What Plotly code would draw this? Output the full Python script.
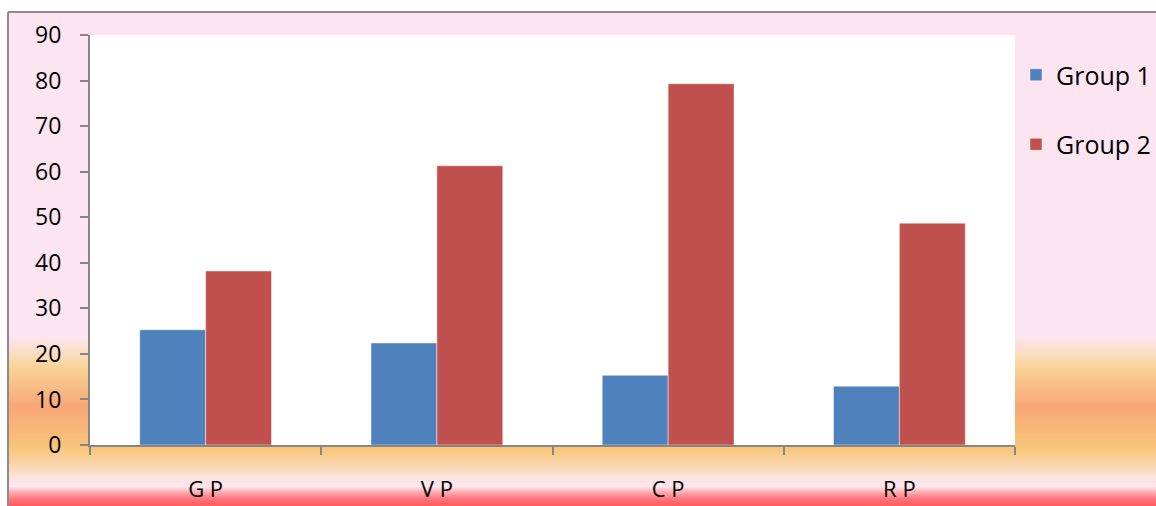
import plotly.graph_objects as go

# ---- data -------------------------------------------------------------
categories = ["G P", "V P", "C P", "R P"]
group1 = [25.3, 22.4, 15.3, 12.9]
group2 = [38.2, 61.3, 79.3, 48.7]
y_ticks = [0, 10, 20, 30, 40, 50, 60, 70, 80, 90]

# ---- styling ----------------------------------------------------------
W, H = 1156, 506
L, R, T, B = 90, 141, 35, 61
PW, PH = W - L - R, H - T - B
FONT = "Open Sans"
AXIS_GREY = "#868686"
BLUE = "#4F81BD"
RED = "#C0504D"


def px_x(x):
    return (x - L) / PW


def px_y(y):
    return (H - B - y) / PH


# colour stops of the lower background band (pixel row, rgb)
band_stops = [
    (336, (252, 229, 241)),
    (352, (250, 222, 196)),
    (366, (249, 212, 155)),
    (386, (249, 190, 135)),
    (406, (249, 167, 119)),
    (428, (248, 182, 120)),
    (448, (248, 198, 122)),
    (465, (250, 215, 175)),
    (478, (252, 228, 225)),
    (486, (253, 230, 238)),
    (492, (255, 170, 175)),
    (498, (255, 120, 125)),
    (506, (255, 88, 92)),
]


def band_color(y):
    for (y0, c0), (y1, c1) in zip(band_stops, band_stops[1:]):
        if y0 <= y <= y1:
            t = (y - y0) / (y1 - y0)
            r, g, b = (round(a + (bb - a) * t) for a, bb in zip(c0, c1))
            return f"rgb({r},{g},{b})"
    return "rgb(%d,%d,%d)" % band_stops[-1][1]


shapes = [
    # pink chart background inside the frame
    dict(type="rect", xref="paper", yref="paper", layer="below",
         x0=px_x(8), x1=px_x(W + 10), y0=px_y(12), y1=px_y(H + 10),
         fillcolor="rgb(252,229,241)", line=dict(width=0)),
]
for y in range(band_stops[0][0], H + 1):
    shapes.append(dict(type="rect", xref="paper", yref="paper", layer="below",
                       x0=px_x(9), x1=px_x(W + 10), y0=px_y(y), y1=px_y(y + 2),
                       fillcolor=band_color(y), line=dict(width=0)))
# white plotting area
shapes.append(dict(type="rect", xref="paper", yref="paper", layer="below",
                   x0=0, x1=1, y0=0, y1=1, fillcolor="white", line=dict(width=0)))
# frame (left and top edges)
shapes.append(dict(type="line", xref="paper", yref="paper", layer="below",
                   x0=px_x(8), x1=px_x(8), y0=px_y(12), y1=px_y(H + 10),
                   line=dict(color="#8C8C8C", width=2)))
shapes.append(dict(type="line", xref="paper", yref="paper", layer="below",
                   x0=px_x(8), x1=px_x(W + 10), y0=px_y(12), y1=px_y(12),
                   line=dict(color="#8C8C8C", width=2)))

fig = go.Figure()
fig.add_trace(go.Bar(x=categories, y=group1, name="Group 1", legendgroup="g1",
                     marker=dict(color=BLUE, line=dict(color="rgba(255,255,255,0.45)", width=1))))
fig.add_trace(go.Bar(x=categories, y=group2, name="Group 2", legendgroup="g2",
                     marker=dict(color=RED, line=dict(color="rgba(255,255,255,0.45)", width=1))))

fig.update_layout(
    width=W, height=H,
    margin=dict(l=L, r=R, t=T, b=B, pad=0, autoexpand=False),
    paper_bgcolor="white",
    plot_bgcolor="rgba(0,0,0,0)",
    barmode="group",
    bargap=0.43,
    bargroupgap=0,
    font=dict(family=FONT, size=23, color="black"),
    shapes=shapes,
    showlegend=True,
    legend=dict(x=px_x(W), y=px_y(52), xanchor="right", yanchor="top",
                bgcolor="rgba(0,0,0,0)", traceorder="grouped", tracegroupgap=34,
                font=dict(family=FONT, size=25, color="black")),
    xaxis=dict(type="category", range=[-0.5, 3.5], showline=True, linecolor=AXIS_GREY,
               linewidth=2, ticks="outside", ticklen=8, tickwidth=2, tickcolor=AXIS_GREY,
               tickson="boundaries", showgrid=False, zeroline=False, automargin=False,
               ticklabelstandoff=24, tickfont=dict(size=22)),
    yaxis=dict(range=[0, 90], tickvals=y_ticks, showline=True, linecolor=AXIS_GREY,
               linewidth=2, ticks="outside", ticklen=8, tickwidth=2, tickcolor=AXIS_GREY,
               showgrid=False, zeroline=False, automargin=False, ticklabelstandoff=14),
)

fig.write_html("out.html")
